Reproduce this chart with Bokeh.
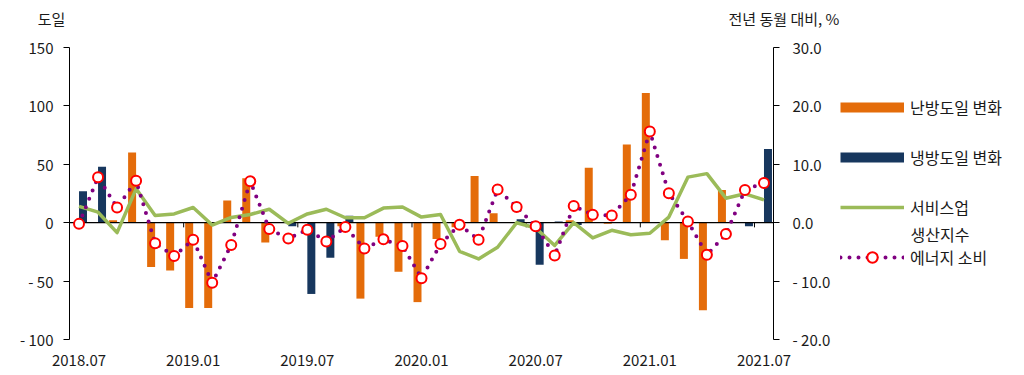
import math
from bokeh.plotting import figure
from bokeh.models import (ColumnDataSource, Range1d, LinearAxis, FixedTicker,
                          Legend, LegendItem, Label, Grid)
from bokeh.transform import dodge
from bokeh.embed import file_html
from bokeh.resources import INLINE

months = ["2018.07", "2018.08", "2018.09", "2018.10", "2018.11", "2018.12",
          "2019.01", "2019.02", "2019.03", "2019.04", "2019.05", "2019.06",
          "2019.07", "2019.08", "2019.09", "2019.10", "2019.11", "2019.12",
          "2020.01", "2020.02", "2020.03", "2020.04", "2020.05", "2020.06",
          "2020.07", "2020.08", "2020.09", "2020.10", "2020.11", "2020.12",
          "2021.01", "2021.02", "2021.03", "2021.04", "2021.05", "2021.06",
          "2021.07"]
# 난방도일 변화 (degree-days)
heating_change = [0, 0, 2, 60, -38, -41, -73, -73, 19, 38, -17, 0,
                  0, 0, -3, -65, -12, -42, -68, -14, -4, 40, 8, 0,
                  0, 0, 2, 47, -1, 67, 111, -15, -31, -75, 28, 0, 0]
# 냉방도일 변화 (degree-days)
cooling_change = [27, 48, 0, 0, 0, 0, 0, 0, 0, 0, 0, -3,
                  -61, -30, 6, 0, 0, 0, 0, 0, 0, 0, 0, 3,
                  -36, 1, -2, 0, 0, 0, 0, 0, 0, 0, 0, -3, 63]
# 서비스업 (YoY %)
services = [2.8, 1.8, -1.7, 5.8, 1.25, 1.5, 2.6, -0.4, 0.9, 1.4, 2.3, -0.1,
            1.5, 2.3, 0.85, 0.85, 2.5, 2.7, 0.96, 1.4, -4.9, -6.2, -4.2, 0.0,
            -0.9, -3.9, 0.0, -2.6, -1.3, -2.05, -1.8, 0.96, 7.8, 8.4, 4.2, 4.95, 3.9]
# 생산지수 에너지 소비 (YoY %)
energy_use = [-0.2, 7.8, 2.6, 7.2, -3.5, -5.7, -2.9, -10.3, -3.8, 7.1, -1.1, -2.7,
              -1.2, -3.2, -0.75, -4.4, -2.85, -4.0, -9.5, -3.65, -0.35, -2.9, 5.7, 2.7,
              -0.6, -5.6, 2.85, 1.35, 1.25, 4.8, 15.6, 5.06, 0.22, -5.5, -1.95, 5.6, 6.8]

x_label_months = ["2018.07", "2019.01", "2019.07", "2020.01", "2020.07", "2021.01", "2021.07"]
left_ticks = [-100, -50, 0, 50, 100, 150]
right_ticks = [-20, -10, 0, 10, 20, 30]

FONT = "Noto Sans CJK KR"
ORANGE = "#E46C0A"
NAVY = "#17375E"
GREEN = "#9BBB59"
PURPLE = "#800080"
RED = "#FF0000"
TXT = "#1a1a1a"

# ---- page layout (pixels) ----
W, H = 1024, 375
PL, PR, PT, PB = 69, 773, 47, 339   # plotting area edges

n = len(months)
x_lo, x_hi = -0.5, n - 0.5
px_per_x = (PR - PL) / (x_hi - x_lo)
y_lo, y_hi = left_ticks[0], left_ticks[-1]
px_per_y = (PB - PT) / (y_hi - y_lo)
r_lo, r_hi = right_ticks[0], right_ticks[-1]
px_per_r = (PB - PT) / (r_hi - r_lo)

x_range = Range1d(x_lo - PL / px_per_x, x_hi + (W - PR) / px_per_x)
y_range = Range1d(y_lo - (H - PB) / px_per_y, y_hi + PT / px_per_y)
pct_range = Range1d(r_lo - (H - PB) / px_per_r, r_hi + PT / px_per_r)

idx = list(range(n))
src = ColumnDataSource(dict(idx=idx, heat=heating_change, cool=cooling_change,
                            svc=services, energy=energy_use))

p = figure(width=W, height=H, output_backend="svg", toolbar_location=None,
           x_range=x_range, y_range=y_range, min_border=0,
           x_axis_location=None, y_axis_location=None)
p.outline_line_color = None
p.renderers = [r for r in p.renderers if not isinstance(r, Grid)]
for g in p.select(type=Grid):
    g.visible = False
p.extra_y_ranges = {"pct": pct_range}


def style_axis(ax, standoff):
    ax.axis_line_color = "black"
    ax.major_tick_line_color = "black"
    ax.major_tick_out = 6
    ax.major_tick_in = 0
    ax.minor_tick_line_color = None
    ax.major_label_standoff = standoff
    ax.major_label_text_font = FONT
    ax.major_label_text_font_size = "15px"
    ax.major_label_text_color = TXT


la = LinearAxis(fixed_location=x_lo, bounds=(y_lo, y_hi),
                ticker=FixedTicker(ticks=left_ticks),
                major_label_overrides={t: (f"- {abs(t)}" if t < 0 else str(t)) for t in left_ticks})
style_axis(la, 10)
p.add_layout(la, "left")

ra = LinearAxis(y_range_name="pct", fixed_location=x_hi, bounds=(r_lo, r_hi),
                ticker=FixedTicker(ticks=right_ticks),
                major_label_overrides={t: (f"- {abs(t):.1f}" if t < 0 else f"{t:.1f}") for t in right_ticks})
style_axis(ra, 13)
p.add_layout(ra, "right")

ba = LinearAxis(fixed_location=y_lo,
                ticker=FixedTicker(ticks=[months.index(m) for m in x_label_months]),
                major_label_overrides={months.index(m): m for m in x_label_months})
style_axis(ba, 15)
ba.axis_line_color = None
ba.major_tick_line_color = None
ba.major_tick_out = 0
p.add_layout(ba, "below")

# bars
p.vbar(x=dodge("idx", -0.21), top="heat", width=0.42, source=src,
       fill_color=ORANGE, line_color=None)
p.vbar(x=dodge("idx", 0.21), top="cool", width=0.42, source=src,
       fill_color=NAVY, line_color=None)

# zero line and its tick marks
p.segment(x0=[x_lo], x1=[x_hi], y0=[0], y1=[0], line_color="black", line_width=1.3)
boundaries = [months.index(m) - 0.5 for m in x_label_months[1:]]
p.segment(x0=boundaries, x1=boundaries, y0=[0] * len(boundaries), y1=[-4] * len(boundaries),
          line_color="black", line_width=1)

# lines
svc_line = p.line(x="idx", y="svc", source=src, y_range_name="pct",
                  line_color=GREEN, line_width=3.5, line_join="round")
en_line = p.line(x="idx", y="energy", source=src, y_range_name="pct",
                 line_color=PURPLE, line_width=4, line_dash="0 9", line_cap="round")
en_pts = p.scatter(x="idx", y="energy", source=src, y_range_name="pct", marker="circle",
                   size=10, fill_color="white", line_color=RED, line_width=2)

# legend swatches for the bar series
heat_sw = p.line(x=[math.nan], y=[math.nan], line_color=ORANGE, line_width=10)
cool_sw = p.line(x=[math.nan], y=[math.nan], line_color=NAVY, line_width=10)

ITEM_H, GAP = 26, 24
LEG_X, LEG_FIRST_Y = 840, 107
leg_height = 4 * ITEM_H + 3 * GAP
legend = Legend(items=[
    LegendItem(label="난방도일 변화", renderers=[heat_sw]),
    LegendItem(label="냉방도일 변화", renderers=[cool_sw]),
    LegendItem(label="서비스업", renderers=[svc_line]),
    LegendItem(label="에너지 소비", renderers=[en_line, en_pts]),
], location=(LEG_X, H - (LEG_FIRST_Y - ITEM_H // 2) - leg_height),
    glyph_width=64, glyph_height=ITEM_H, label_height=ITEM_H, spacing=GAP,
    padding=0, margin=0, label_standoff=6, label_text_font=FONT,
    label_text_font_size="16px", label_text_color=TXT,
    border_line_alpha=0, background_fill_alpha=0)
p.add_layout(legend)

p.add_layout(Label(x=LEG_X + 70, y=H - 233, x_units="screen", y_units="screen",
                   text="생산지수", text_font=FONT, text_font_size="16px", text_color=TXT,
                   text_align="left", text_baseline="middle"))
p.add_layout(Label(x=51, y=H - 18, x_units="screen", y_units="screen", text="도일",
                   text_font=FONT, text_font_size="15px", text_color=TXT,
                   text_align="center", text_baseline="middle"))
p.add_layout(Label(x=728, y=H - 18, x_units="screen", y_units="screen",
                   text="전년 동월 대비, %", text_font=FONT, text_font_size="15px",
                   text_color=TXT, text_align="left", text_baseline="middle"))

open("out.html", "w").write(file_html(p, INLINE))
